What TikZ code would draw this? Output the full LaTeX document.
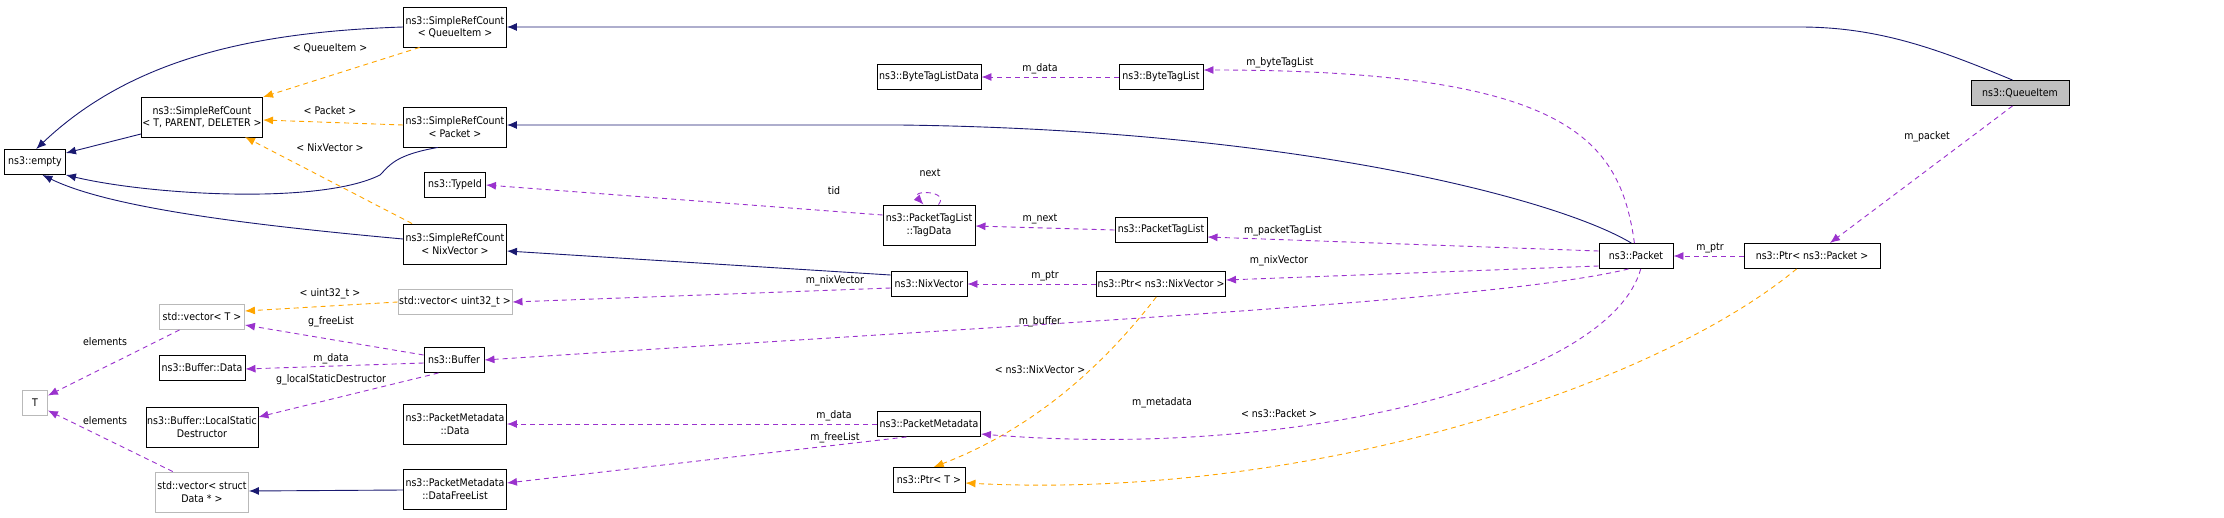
\documentclass[tikz,border=0pt]{standalone}
\usepackage{fontspec}
\setmainfont{DejaVu Sans Condensed}
\usetikzlibrary{arrows.meta}
\definecolor{navy}{HTML}{191970}
\definecolor{orng}{HTML}{FFA500}
\definecolor{purp}{HTML}{9A32CD}
\begin{document}
\begin{tikzpicture}[x=1pt,y=-1pt,
  font=\fontsize{10.5}{12.5}\selectfont,
  box/.style={draw=black,line width=0.9pt,fill=white,inner sep=1pt,align=center,minimum height=25pt},
  box2/.style={box,minimum height=40pt},
  gbox/.style={box,draw=gray!55},
  gbox2/.style={box2,draw=gray!55},
  inh/.style={navy,line width=0.9pt,-{Latex[length=10pt,width=8pt]}},
  tpl/.style={orng,line width=0.9pt,dashed,dash pattern=on 5pt off 4pt,-{Latex[length=10pt,width=8pt]}},
  use/.style={purp,line width=0.9pt,dashed,dash pattern=on 5pt off 4pt,-{Latex[length=10pt,width=8pt]}},
  lab/.style={inner sep=1pt,text=black}]
\useasboundingbox (0,0) rectangle (2224,517);
% nodes
\node[box,minimum width=61] (empty) at (35,162) {ns3::empty};
\node[box2,minimum width=120] (src) at (202,117) {ns3::SimpleRefCount\\< T, PARENT, DELETER >};
\node[box2,minimum width=103] (srcq) at (455,27) {ns3::SimpleRefCount\\< QueueItem >};
\node[box2,minimum width=103] (srcp) at (455,127) {ns3::SimpleRefCount\\< Packet >};
\node[box,minimum width=61] (tid) at (455,185) {ns3::TypeId};
\node[box2,minimum width=103] (srcn) at (455,244) {ns3::SimpleRefCount\\< NixVector >};
\node[gbox,minimum width=114] (vu) at (455,302) {std::vector< uint32\_t >};
\node[gbox,minimum width=85] (vt) at (202,317) {std::vector< T >};
\node[box,minimum width=86] (bd) at (202,368) {ns3::Buffer::Data};
\node[box2,minimum width=112] (bl) at (202,427) {ns3::Buffer::LocalStatic\\Destructor};
\node[gbox,minimum width=25] (T) at (35,403) {T};
\node[gbox2,minimum width=93] (vs) at (202,492) {std::vector< struct\\Data * >};
\node[box,minimum width=60] (buf) at (454,360) {ns3::Buffer};
\node[box2,minimum width=103] (pmd) at (455,424) {ns3::PacketMetadata\\::Data};
\node[box2,minimum width=103] (pmf) at (455,489) {ns3::PacketMetadata\\::DataFreeList};
\node[box,minimum width=104] (btld) at (929,77) {ns3::ByteTagListData};
\node[box,minimum width=84] (btl) at (1161,77) {ns3::ByteTagList};
\node[box2,minimum width=92] (td) at (929,225) {ns3::PacketTagList\\::TagData};
\node[box,minimum width=92] (ptl) at (1161,230) {ns3::PacketTagList};
\node[box,minimum width=76] (nv) at (929,284) {ns3::NixVector};
\node[box,minimum width=127] (pnv) at (1161,284) {ns3::Ptr< ns3::NixVector >};
\node[box,minimum width=103] (pm) at (929,424) {ns3::PacketMetadata};
\node[box,minimum width=72] (pt) at (929,480) {ns3::Ptr< T >};
\node[box,minimum width=98,fill=gray!50] (qi) at (2020,93) {ns3::QueueItem};
\node[box,minimum width=74] (pk) at (1636,256) {ns3::Packet};
\node[box,minimum width=136] (pp) at (1812,256) {ns3::Ptr< ns3::Packet >};
\coordinate (ppin) at (1830,243);
% inheritance
\draw[inh] (srcq.west) .. controls (250,32) and (130,60) .. (empty.85);
\draw[inh] (src.west |- 0,134) -- (empty.east |- 0,153);
\draw[inh] (srcp.230) .. controls (395,155) and (390,165) .. (380,175) .. controls (320,205) and (150,195) .. (empty.east |- 0,175);
\draw[inh] (srcn.west |- 0,239) .. controls (250,225) and (110,208) .. (empty.-60);
\draw[inh] (qi.120) .. controls (1940,50) and (1880,27) .. (1800,27) -- (srcq.east);
\draw[inh] (pk.110) .. controls (1560,200) and (1300,130) .. (900,125) -- (srcp.east |- 0,125);
\draw[inh] (nv.west |- 0,275) -- (srcn.east |- 0,251);
\draw[inh] (pmf.west |- 0,490) -- (vs.east |- 0,491);
% template
\draw[tpl] (srcq.210) -- (src.east |- 0,97);
\node[lab] (l1) at (330,48) {< QueueItem >};
\draw[tpl] (srcp.west |- 0,125) -- (src.east |- 0,120);
\node[lab] (l2) at (330,111) {< Packet >};
\draw[tpl] (srcn.north west) ++(9,0) -- (245,137);
\node[lab] (l3) at (330,148) {< NixVector >};
\draw[tpl] (vu.west) -- (vt.east |- 0,311);
\node[lab] (l4) at (330,294) {< uint32\_t >};
\draw[tpl] (pnv.250) .. controls (1100,370) and (1030,430) .. (pt.70);
\node[lab] (l5) at (1040,370) {< ns3::NixVector >};
\draw[tpl] (pp.220) .. controls (1650,390) and (1300,500) .. (pt.east |- 0,483);
\node[lab] (l6) at (1279,414) {< ns3::Packet >};
% usage
\draw[use] (vt.210) -- (T.30);
\node[lab] (l7) at (105,342) {elements};
\draw[use] (vs.145) -- (T.-30);
\node[lab] (l8) at (105,421) {elements};
\draw[use] (buf.west |- 0,355) -- (vt.east |- 0,325);
\node[lab] (l9) at (331,322) {g\_freeList};
\draw[use] (buf.west |- 0,363) -- (bd.east |- 0,369);
\node[lab] (l10) at (331,359) {m\_data};
\draw[use] (buf.220) -- (bl.east |- 0,417);
\node[lab] (l11) at (331,380) {g\_localStaticDestructor};
\draw[use] (td.west |- 0,215) -- (tid.east);
\node[lab] (l12) at (834,191) {tid};
\draw[use] (td.65) .. controls (950,190) and (910,190) .. (td.105);
\node[lab] (l13) at (930,173) {next};
\draw[use] (btl.west) -- (btld.east);
\node[lab] (l14) at (1040,69) {m\_data};
\draw[use] (ptl.west) -- (td.east |- 0,226);
\node[lab] (l15) at (1040,219) {m\_next};
\draw[use] (pnv.west) -- (nv.east);
\node[lab] (l16) at (1045,276) {m\_ptr};
\draw[use] (nv.west |- 0,288) -- (vu.east |- 0,302);
\node[lab] (l17) at (835,281) {m\_nixVector};
\draw[use] (pm.west) -- (pmd.east);
\node[lab] (l18) at (834,416) {m\_data};
\draw[use] (pm.210) -- (pmf.east |- 0,483);
\node[lab] (l19) at (835,438) {m\_freeList};
\draw[use] (pk.97) .. controls (1620,140) and (1570,70) .. (btl.east |- 0,70);
\node[lab] (l20) at (1280,63) {m\_byteTagList};
\draw[use] (pk.west |- 0,251) -- (ptl.east |- 0,237);
\node[lab] (l21) at (1283,231) {m\_packetTagList};
\draw[use] (pk.west |- 0,266) -- (pnv.east |- 0,280);
\node[lab] (l22) at (1279,261) {m\_nixVector};
\draw[use] (pk.240) .. controls (1500,300) and (1100,320) .. (buf.east);
\node[lab] (l23) at (1040,322) {m\_buffer};
\draw[use] (pk.290) .. controls (1610,380) and (1300,460) .. (pm.east |- 0,434);
\node[lab] (l24) at (1162,403) {m\_metadata};
\draw[use] (pp.west) -- (pk.east);
\node[lab] (l25) at (1710,248) {m\_ptr};
\draw[use] (qi.240) -- (ppin);
\node[lab] (l26) at (1927,137) {m\_packet};
\end{tikzpicture}
\end{document}
